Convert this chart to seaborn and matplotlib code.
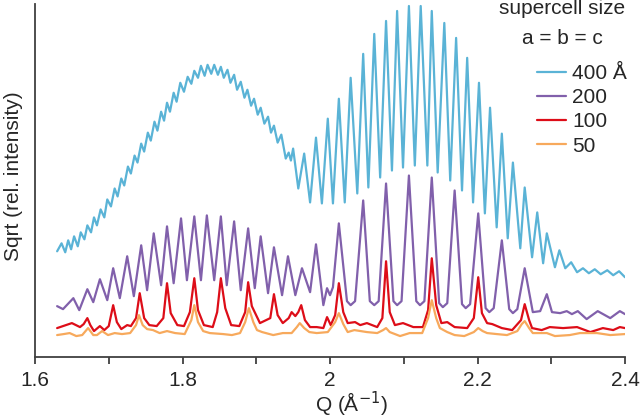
import matplotlib
matplotlib.use('Agg')
import matplotlib.pyplot as plt
import pandas as pd
import seaborn as sns

# Q (1/A) and sqrt intensity (arbitrary units)
q_400 = [1.630, 1.636, 1.641, 1.645, 1.649, 1.653, 1.658, 1.662, 1.667, 1.671,
         1.676, 1.680, 1.684, 1.689, 1.694, 1.698, 1.703, 1.708, 1.712, 1.717,
         1.721, 1.726, 1.730, 1.735, 1.739, 1.744, 1.748, 1.753, 1.757, 1.762,
         1.766, 1.771, 1.775, 1.779, 1.783, 1.788, 1.792, 1.797, 1.802, 1.807,
         1.812, 1.816, 1.821, 1.825, 1.830, 1.834, 1.839, 1.843, 1.848, 1.852,
         1.856, 1.861, 1.865, 1.870, 1.874, 1.879, 1.884, 1.888, 1.893, 1.897,
         1.902, 1.906, 1.911, 1.916, 1.920, 1.924, 1.929, 1.934, 1.940, 1.944,
         1.947, 1.950, 1.957, 1.965, 1.973, 1.981, 1.989, 1.997, 2.004, 2.012,
         2.020, 2.028, 2.037, 2.045, 2.052, 2.060, 2.068, 2.076, 2.084, 2.091,
         2.099, 2.107, 2.115, 2.123, 2.132, 2.138, 2.146, 2.155, 2.163, 2.171,
         2.179, 2.186, 2.194, 2.202, 2.210, 2.217, 2.226, 2.233, 2.241, 2.248,
         2.258, 2.264, 2.274, 2.281, 2.289, 2.294, 2.305, 2.311, 2.319, 2.327,
         2.335, 2.343, 2.351, 2.359, 2.367, 2.376, 2.384, 2.392, 2.400]
i_400 = [106, 114, 105, 117, 108, 121, 111, 125, 118, 132,
         125, 140, 132, 148, 140, 158, 151, 169, 161, 179,
         172, 191, 184, 202, 195, 214, 206, 225, 217, 236,
         227, 246, 237, 255, 246, 265, 256, 275, 266, 281,
         274, 287, 280, 292, 282, 293, 284, 293, 283, 291,
         280, 288, 275, 283, 268, 276, 260, 268, 252, 259,
         243, 250, 234, 241, 225, 232, 215, 223, 199, 205,
         197, 209, 169, 204, 155, 220, 154, 239, 154, 259,
         155, 280, 164, 304, 170, 324, 180, 337, 187, 347,
         190, 352, 192, 352, 192, 347, 185, 335, 177, 320,
         167, 300, 155, 275, 144, 250, 130, 224, 119, 195,
         109, 170, 100, 145, 94, 124, 90, 107, 89, 95,
         85, 89, 84, 88, 83, 87, 82, 86, 80]

q_200 = [1.630, 1.638, 1.652, 1.660, 1.671, 1.679, 1.688, 1.698, 1.706, 1.715,
         1.725, 1.734, 1.744, 1.752, 1.761, 1.771, 1.779, 1.788, 1.798, 1.806,
         1.816, 1.825, 1.833, 1.843, 1.852, 1.860, 1.870, 1.879, 1.889, 1.898,
         1.906, 1.916, 1.924, 1.935, 1.943, 1.953, 1.962, 1.973, 1.981, 1.991,
         1.996, 2.000, 2.004, 2.012, 2.023, 2.028, 2.034, 2.045, 2.054, 2.060,
         2.066, 2.076, 2.086, 2.091, 2.097, 2.107, 2.117, 2.122, 2.128, 2.138,
         2.148, 2.153, 2.159, 2.169, 2.179, 2.184, 2.190, 2.201, 2.211, 2.216,
         2.222, 2.233, 2.243, 2.248, 2.254, 2.264, 2.275, 2.285, 2.294, 2.301,
         2.312, 2.321, 2.328, 2.336, 2.348, 2.363, 2.380, 2.393, 2.400]
i_200 = [51, 48, 59, 47, 68, 55, 78, 57, 89, 59,
         101, 61, 112, 67, 124, 72, 131, 74, 139, 77,
         141, 77, 142, 77, 141, 72, 136, 67, 129, 69,
         121, 64, 110, 62, 101, 62, 89, 65, 113, 52,
         69, 62, 70, 134, 56, 52, 56, 157, 56, 52,
         56, 174, 56, 52, 56, 182, 56, 52, 56, 180,
         54, 50, 54, 167, 53, 49, 53, 144, 49, 45,
         49, 117, 48, 44, 48, 89, 45, 46, 63, 45,
         44, 46, 43, 46, 38, 46, 39, 46, 43]

q_100 = [1.630, 1.638, 1.650, 1.661, 1.666, 1.671, 1.675, 1.680, 1.688, 1.694,
         1.700, 1.706, 1.711, 1.717, 1.725, 1.730, 1.737, 1.742, 1.748, 1.755,
         1.765, 1.774, 1.779, 1.784, 1.793, 1.802, 1.810, 1.816, 1.821, 1.829,
         1.841, 1.847, 1.852, 1.858, 1.866, 1.877, 1.885, 1.889, 1.894, 1.905,
         1.919, 1.924, 1.929, 1.936, 1.944, 1.948, 1.953, 1.957, 1.961, 1.966,
         1.973, 1.982, 1.991, 1.996, 2.001, 2.007, 2.012, 2.018, 2.024, 2.034,
         2.041, 2.050, 2.064, 2.071, 2.076, 2.081, 2.088, 2.099, 2.113, 2.126,
         2.133, 2.138, 2.144, 2.151, 2.159, 2.169, 2.186, 2.195, 2.201, 2.206,
         2.213, 2.220, 2.233, 2.247, 2.259, 2.264, 2.270, 2.274, 2.287, 2.298,
         2.316, 2.335, 2.353, 2.370, 2.384, 2.393, 2.400]
i_100 = [29, 31, 34, 30, 33, 39, 32, 26, 31, 27,
         31, 52, 35, 28, 32, 31, 39, 64, 39, 32,
         31, 39, 74, 44, 32, 31, 45, 79, 47, 32,
         30, 45, 79, 49, 32, 31, 45, 75, 51, 34,
         39, 63, 42, 34, 39, 45, 41, 45, 52, 37,
         30, 30, 29, 40, 32, 42, 74, 45, 34, 35,
         32, 34, 30, 39, 96, 45, 32, 34, 30, 30,
         47, 99, 52, 34, 35, 30, 29, 39, 80, 44,
         34, 33, 29, 27, 37, 53, 37, 29, 27, 30,
         29, 30, 25, 29, 27, 30, 29]

q_50 = [1.630, 1.639, 1.647, 1.656, 1.664, 1.672, 1.679, 1.684, 1.691, 1.699,
        1.708, 1.718, 1.729, 1.737, 1.741, 1.746, 1.752, 1.760, 1.769, 1.779,
        1.790, 1.803, 1.812, 1.816, 1.821, 1.828, 1.837, 1.855, 1.867, 1.878,
        1.885, 1.890, 1.896, 1.901, 1.908, 1.923, 1.936, 1.948, 1.955, 1.959,
        1.965, 1.972, 1.982, 1.997, 2.007, 2.012, 2.018, 2.024, 2.033, 2.050,
        2.064, 2.072, 2.076, 2.081, 2.095, 2.108, 2.125, 2.133, 2.138, 2.144,
        2.149, 2.159, 2.169, 2.182, 2.195, 2.201, 2.207, 2.213, 2.226, 2.240,
        2.254, 2.260, 2.264, 2.270, 2.275, 2.294, 2.305, 2.325, 2.339, 2.362,
        2.380, 2.400]
i_50 = [22, 23, 24, 21, 22, 29, 22, 22, 26, 22,
        24, 23, 24, 32, 42, 32, 28, 27, 24, 26,
        24, 23, 37, 52, 35, 26, 24, 23, 22, 24,
        35, 49, 35, 27, 25, 22, 24, 24, 30, 34,
        29, 25, 24, 25, 35, 44, 33, 25, 27, 25,
        24, 27, 29, 25, 21, 24, 24, 39, 57, 39,
        29, 25, 22, 21, 25, 29, 26, 24, 23, 22,
        26, 33, 36, 29, 24, 24, 21, 22, 24, 24,
        22, 23]

sizes = ['400 Å', '200', '100', '50']
colors = ['#5AB3D6', '#8160AB', '#DD0D18', '#F7A95C']

frames = []
for name, q, i in [('400 Å', q_400, i_400), ('200', q_200, i_200),
                   ('100', q_100, i_100), ('50', q_50, i_50)]:
    frames.append(pd.DataFrame({'Q': q, 'I': i, 'size': name}))
df = pd.concat(frames, ignore_index=True)

sns.set_style('ticks')
plt.rcParams['font.family'] = ['Liberation Sans', 'DejaVu Sans']

fig = plt.figure(figsize=(6.4, 4.19), dpi=100)
ax = fig.add_axes([35 / 640, 62 / 419, 590 / 640, 353 / 419])

sns.lineplot(data=df, x='Q', y='I', hue='size', hue_order=sizes,
             palette=dict(zip(sizes, colors)), estimator=None, sort=False,
             linewidth=1.6, solid_joinstyle='round', ax=ax)

ax.set_xlim(1.6, 2.4)
ax.set_ylim(0, 354)
ax.set_yticks([])
ticks = [1.6, 1.7, 1.8, 1.9, 2.0, 2.1, 2.2, 2.3, 2.4]
ax.set_xticks(ticks)
ax.set_xticklabels([f'{t:g}' if round(t * 10) % 2 == 0 else '' for t in ticks])
ax.tick_params(axis='x', length=5, width=1.3, color='#404040',
               labelsize=15, pad=5)
for side in ['top', 'right']:
    ax.spines[side].set_visible(False)
for side in ['left', 'bottom']:
    ax.spines[side].set_color('#404040')
    ax.spines[side].set_linewidth(1.3)

ax.set_xlabel('Q (Å$^{-1}$)', fontsize=15)
ax.xaxis.set_label_coords(0.537, -0.092)
ax.set_ylabel('Sqrt (rel. intensity)', fontsize=15)
ax.yaxis.set_label_coords(-0.02, 0.513)

handles, labels = ax.get_legend_handles_labels()
ax.legend(handles, labels, loc='upper left', bbox_to_anchor=(537 / 640, 1 - 64 / 419),
          bbox_transform=fig.transFigure, frameon=False, fontsize=15,
          borderpad=0, borderaxespad=0, handlelength=1.4, handletextpad=0.3,
          labelspacing=0.25)
fig.text(562 / 640, 1 - 9 / 419, 'supercell size', ha='center', va='center', fontsize=15)
fig.text(562 / 640, 1 - 38 / 419, 'a = b = c', ha='center', va='center', fontsize=15)

fig.savefig('out.png', dpi=100)
